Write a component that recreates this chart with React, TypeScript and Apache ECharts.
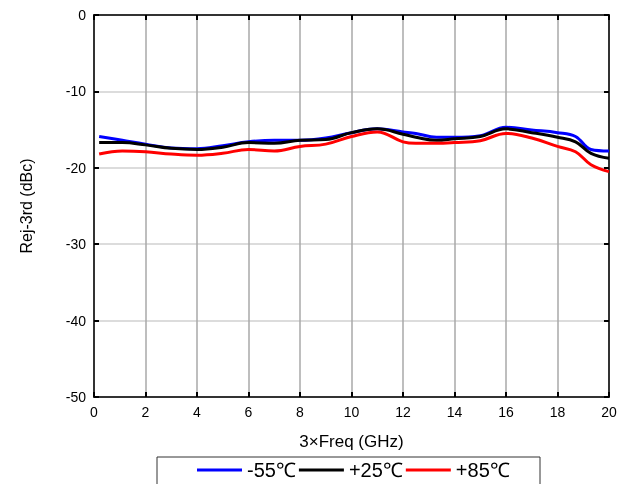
import React, { useEffect, useRef } from "react";
import * as echarts from "echarts";

const freq = [0.2, 1.1, 2, 3, 4, 5, 6, 7, 8, 9, 10, 11, 12, 12.5, 13.3, 14, 15, 16, 17, 18, 18.7, 19.3, 20];
const m55 = [-15.9, -16.4, -16.9, -17.4, -17.5, -17.1, -16.6, -16.4, -16.4, -16.1, -15.4, -14.9, -15.3, -15.5, -16.0, -16.0, -15.8, -14.7, -15.05, -15.4, -15.9, -17.6, -17.8];
const p25 = [-16.7, -16.7, -17.0, -17.45, -17.6, -17.3, -16.7, -16.8, -16.4, -16.3, -15.4, -14.9, -15.6, -16.0, -16.4, -16.2, -15.9, -14.9, -15.4, -16.0, -16.6, -18.1, -18.75];
const p85 = [-18.2, -17.8, -17.9, -18.2, -18.35, -18.1, -17.6, -17.8, -17.2, -16.9, -15.9, -15.3, -16.6, -16.8, -16.8, -16.7, -16.45, -15.5, -16.1, -17.2, -17.9, -19.6, -20.5];
const seriesNames = ["-55℃", "+25℃", "+85℃"];
const seriesColors = ["#0000ff", "#000000", "#ff0000"];
const seriesData = [m55, p25, p85];

export default function App() {
  const ref = useRef<HTMLDivElement>(null);
  useEffect(() => {
    const chart = echarts.init(ref.current!, null, { renderer: "svg" });
    const font = "Liberation Sans, Arial, sans-serif";
    const axisLine = { onZero: false, lineStyle: { color: "#333", width: 2 } };
    const tick = { inside: true, length: 5, lineStyle: { color: "#000", width: 2 } };
    chart.setOption({
      animation: false,
      textStyle: { fontFamily: font },
      grid: { left: 94, top: 15, width: 515, height: 382 },
      xAxis: [
        {
          type: "value", position: "bottom", min: 0, max: 20, interval: 2,
          name: "3×Freq (GHz)", nameLocation: "middle", nameGap: 36,
          nameTextStyle: { fontSize: 17, color: "#000", fontFamily: font },
          axisLine, axisTick: tick,
          axisLabel: { fontSize: 14, color: "#000", margin: 8, fontFamily: font },
          splitLine: { show: true, lineStyle: { color: "#a8a8a8", width: 1.5 } },
        },
        {
          type: "value", position: "top", min: 0, max: 20, interval: 2,
          axisLine, axisTick: tick, axisLabel: { show: false }, splitLine: { show: false },
        },
      ],
      yAxis: [
        {
          type: "value", position: "left", min: -50, max: 0, interval: 10,
          name: "Rej-3rd (dBc)", nameLocation: "middle", nameGap: 60, nameRotate: 90,
          nameTextStyle: { fontSize: 16, color: "#000", fontFamily: font },
          axisLine, axisTick: tick,
          axisLabel: { fontSize: 14, color: "#000", margin: 8, fontFamily: font },
          splitLine: { show: true, lineStyle: { color: "#d0d0d0", width: 1.5 } },
        },
        {
          type: "value", position: "right", min: -50, max: 0, interval: 10,
          axisLine, axisTick: tick, axisLabel: { show: false }, splitLine: { show: false },
        },
      ],
      legend: {
        left: 192, top: 455, itemWidth: 45, itemHeight: 3, itemGap: 3,
        textStyle: { fontSize: 20, color: "#000", fontFamily: font },
        data: seriesNames.map((n) => ({ name: n, icon: "rect" })),
      },
      graphic: [
        { type: "rect", shape: { x: 157, y: 457, width: 383, height: 40 }, style: { fill: "none", stroke: "#333", lineWidth: 1 } },
      ],
      series: seriesNames.map((n, i) => ({
        name: n, type: "line", smooth: 0.4, symbol: "none",
        data: freq.map((f, j) => [f, seriesData[i][j]]),
        lineStyle: { color: seriesColors[i], width: 3 },
        itemStyle: { color: seriesColors[i] },
      })),
    });
    return () => chart.dispose();
  }, []);
  return <div ref={ref} style={{ position: "fixed", left: 0, top: 0, width: 635, height: 484 }} />;
}
